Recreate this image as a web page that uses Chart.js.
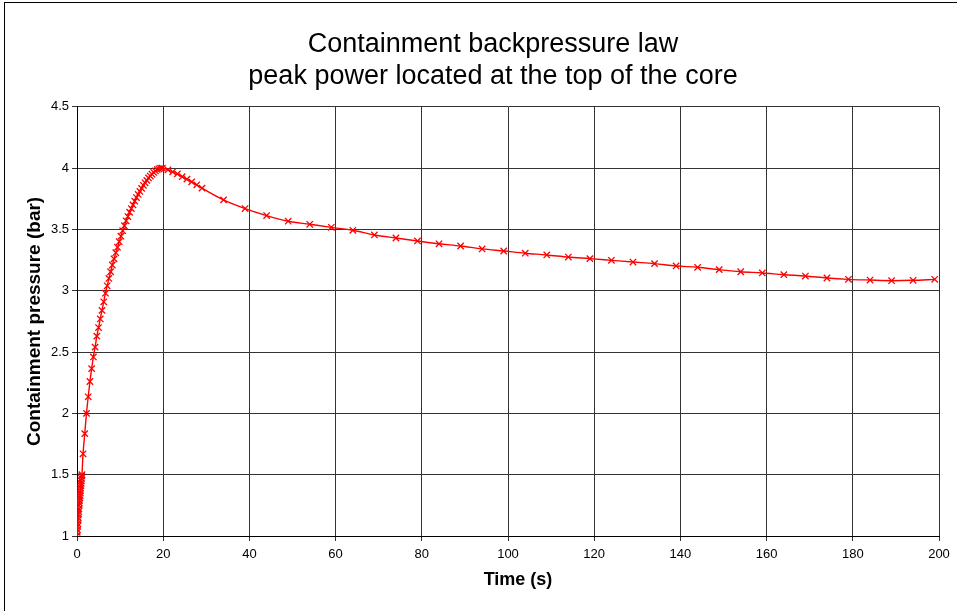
<!DOCTYPE html>
<html>
<head>
<meta charset="utf-8">
<title>Containment backpressure law</title>
<script src="https://cdn.jsdelivr.net/npm/chart.js@4/dist/chart.umd.min.js"></script>
<style>
  html, body { margin: 0; padding: 0; background: #fff; }
  #wrap { width: 957px; height: 611px; position: relative; }
</style>
</head>
<body>
<div id="wrap"><canvas id="pressureChart"></canvas></div>
<script>
// ---- Data (time in s, pressure in bar) ----
// fast initial ramp
const rampTime = [0, 0.05, 0.1, 0.15, 0.2, 0.25, 0.3, 0.35, 0.4, 0.45, 0.5, 0.55,
  0.6, 0.65, 0.7, 0.75, 0.8, 0.85, 0.9, 0.95, 1.0, 1.05, 1.1, 1.15];
const rampPressure = [1.00, 1.03, 1.05, 1.08, 1.10, 1.13, 1.15, 1.18, 1.20, 1.22, 1.25, 1.27,
  1.29, 1.31, 1.33, 1.35, 1.37, 1.39, 1.41, 1.43, 1.45, 1.47, 1.49, 1.50];

// rise up to the peak
const riseTime = [1.4, 1.8, 2.2, 2.6, 3.0, 3.4, 3.8, 4.2, 4.6, 5.0, 5.4, 5.8,
  6.2, 6.6, 7.0, 7.4, 7.8, 8.2, 8.6, 9.0, 9.4, 9.8, 10.2, 10.6,
  11.0, 11.4, 11.8, 12.2, 12.6, 13.0, 13.4, 13.8, 14.2, 14.6, 15.0, 15.4,
  15.8, 16.2, 16.6, 17.0, 17.4, 17.8, 18.2, 18.6, 19.0, 19.4, 19.8];
const risePressure = [1.67, 1.835, 2.0, 2.135, 2.26, 2.365, 2.46, 2.54, 2.63, 2.70, 2.77, 2.84,
  2.91, 2.98, 3.04, 3.10, 3.155, 3.21, 3.26, 3.31, 3.355, 3.40, 3.445, 3.49,
  3.53, 3.57, 3.605, 3.64, 3.67, 3.70, 3.73, 3.76, 3.785, 3.81, 3.835, 3.86,
  3.88, 3.90, 3.92, 3.935, 3.95, 3.965, 3.977, 3.987, 3.994, 3.999, 4.0];

// just after the peak
const dropTime = [21.1, 22.2, 23.3, 24.4, 25.5, 26.6, 27.8];
const dropPressure = [3.986, 3.97, 3.953, 3.93, 3.91, 3.888, 3.864];

// slow decay, one point every 5 s
const tailTime = [29, 34, 39, 44, 49, 54, 59, 64, 69, 74, 79, 84,
  89, 94, 99, 104, 109, 114, 119, 124, 129, 134, 139, 144,
  149, 154, 159, 164, 169, 174, 179, 184, 189, 194, 199];
const tailPressure = [3.837, 3.741, 3.67, 3.613, 3.567, 3.542, 3.517, 3.493, 3.455, 3.43, 3.406, 3.383,
  3.365, 3.341, 3.324, 3.306, 3.292, 3.275, 3.262, 3.248, 3.234, 3.221, 3.202, 3.191,
  3.172, 3.155, 3.145, 3.131, 3.12, 3.104, 3.093, 3.087, 3.082, 3.085, 3.093];

const xTicks = [0, 20, 40, 60, 80, 100, 120, 140, 160, 180, 200];
const yTicks = [1, 1.5, 2, 2.5, 3, 3.5, 4, 4.5];

const titleLines = ["Containment backpressure law", "peak power located at the top of the core"];

// ---- build points ----
const allTime = rampTime.concat(riseTime, dropTime, tailTime);
const allPressure = rampPressure.concat(risePressure, dropPressure, tailPressure);
const points = allTime.map((t, i) => ({ x: t, y: allPressure[i] }));

const FONT = "'Liberation Sans', Arial, Helvetica, sans-serif";
const GRID = "#333";

// white page + thin frame round the whole chart
const framePlugin = {
  id: "frame",
  beforeDraw(chart) {
    const ctx = chart.ctx;
    ctx.save();
    ctx.fillStyle = "#fff";
    ctx.fillRect(0, 0, chart.width, chart.height);
    ctx.strokeStyle = "#000";
    ctx.lineWidth = 1;
    ctx.strokeRect(4.5, 2.5, chart.width + 20, chart.height + 20);
    ctx.restore();
  },
  // title sits centred a bit right of the canvas centre
  afterLayout(chart) {
    if (chart.titleBlock) chart.titleBlock.left += 43;
  }
};

new Chart(document.getElementById("pressureChart"), {
  type: "scatter",
  data: {
    datasets: [{
      label: "Containment pressure",
      data: points,
      showLine: true,
      borderColor: "#ff0000",
      backgroundColor: "#ff0000",
      borderWidth: 1.4,
      cubicInterpolationMode: "monotone",
      pointStyle: "crossRot",
      pointRadius: 4.5,
      pointBorderWidth: 1.3,
      pointBorderColor: "#ff0000",
      pointHoverRadius: 5
    }]
  },
  options: {
    responsive: true,
    maintainAspectRatio: false,
    animation: false,
    layout: { padding: { left: 4, right: 18, top: 0, bottom: 5 } },
    plugins: {
      legend: { display: false },
      tooltip: { enabled: false },
      title: {
        display: true,
        text: titleLines,
        color: "#000",
        font: { family: FONT, size: 27, weight: "normal", lineHeight: 1.2 },
        padding: { top: 28, bottom: 14 }
      }
    },
    scales: {
      x: {
        type: "linear",
        min: 0,
        max: 200,
        afterBuildTicks: s => { s.ticks = xTicks.map(v => ({ value: v })); },
        afterFit: s => { s.height = 70; },
        ticks: {
          color: "#000",
          font: { family: FONT, size: 13 },
          padding: 6,
          maxRotation: 0,
          callback: v => String(v)
        },
        grid: { color: GRID, lineWidth: 1, tickLength: 5, drawTicks: true },
        border: { color: "#000", width: 1 },
        title: {
          display: true,
          text: "    Time (s)",
          color: "#000",
          font: { family: FONT, size: 18, weight: "bold", lineHeight: 1.2 },
          padding: { top: 0, bottom: 15 }
        }
      },
      y: {
        type: "linear",
        min: 1,
        max: 4.5,
        afterBuildTicks: s => { s.ticks = yTicks.map(v => ({ value: v })); },
        afterFit: s => { s.width = 73; },
        ticks: {
          color: "#000",
          font: { family: FONT, size: 13 },
          padding: 3,
          callback: v => String(v)
        },
        grid: { color: GRID, lineWidth: 1, tickLength: 5, drawTicks: true },
        border: { color: "#000", width: 1 },
        title: {
          display: true,
          text: "Containment pressure (bar)",
          color: "#000",
          font: { family: FONT, size: 19, weight: "bold", lineHeight: 1.2 },
          padding: { top: 19, bottom: 0 }
        }
      }
    }
  },
  plugins: [framePlugin]
});
</script>
</body>
</html>
